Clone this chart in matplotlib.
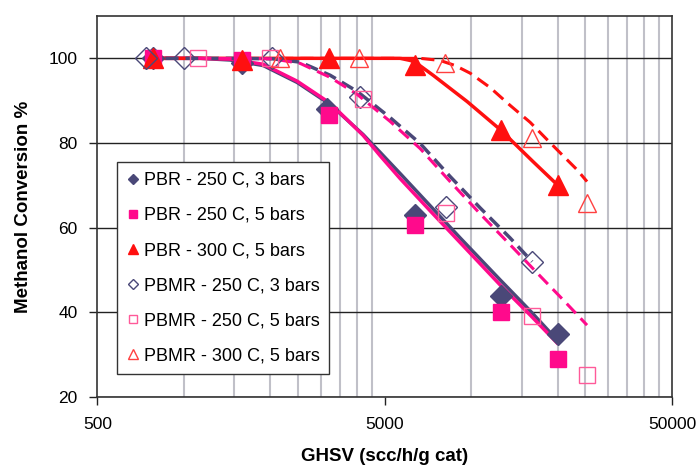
import matplotlib
matplotlib.use('Agg')
import matplotlib.pyplot as plt
from matplotlib.ticker import FixedLocator, NullFormatter

plt.rcParams['font.family'] = ['Liberation Sans', 'DejaVu Sans']

labels = ['PBR - 250 C, 3 bars', 'PBR - 250 C, 5 bars', 'PBR - 300 C, 5 bars',
          'PBMR - 250 C, 3 bars', 'PBMR - 250 C, 5 bars', 'PBMR - 300 C, 5 bars']

# measured points
pbr250_3_x = [780, 1600, 3150, 6400, 12700, 20000]
pbr250_3_y = [100, 99, 88, 63, 44, 35]
pbr250_5_x = [780, 1600, 3200, 6400, 12700, 20000]
pbr250_5_y = [100, 99.5, 86.7, 60.7, 40, 29]
pbr300_5_x = [780, 1600, 3200, 6400, 12700, 20000]
pbr300_5_y = [100, 99.5, 100, 98.5, 83, 70]
pbmr250_3_x = [740, 1000, 2030, 4100, 8150, 16300]
pbmr250_3_y = [100, 100, 100, 90.8, 65, 52]
pbmr250_5_x = [1120, 2000, 4200, 8180, 16300, 25300]
pbmr250_5_y = [100, 100, 90.5, 63.5, 39.2, 25.2]
pbmr300_5_x = [2170, 4080, 8120, 16300, 25300]
pbmr300_5_y = [100, 100, 99, 81.3, 65.9]

# fitted curves
fit_pbr250_3_x = [783, 1141, 1451, 1890, 2481, 3232, 4209, 4823, 5661, 7199, 9155, 12610, 16040, 19905]
fit_pbr250_3_y = [100, 100, 99.6, 98.3, 94.3, 89.1, 82.0, 77.8, 72.8, 65.2, 57.6, 47.7, 40.4, 33.5]
fit_pbr250_5_x = [783, 1141, 1451, 1890, 2481, 3232, 4209, 4823, 5661, 7199, 9155, 12610, 16040, 19905]
fit_pbr250_5_y = [100, 100, 99.8, 98.6, 94.6, 89.4, 81.8, 77.0, 71.6, 64.0, 56.5, 46.5, 39.4, 32.8]
fit_pbr300_5_x = [783, 4823, 5661, 6134, 6384, 7374, 8449, 9682, 12610, 16429, 19905]
fit_pbr300_5_y = [100, 100, 100, 99.5, 99.1, 96.0, 92.9, 89.8, 83.2, 75.6, 70.2]
fit_pbmr250_3_x = [734, 1451, 2031, 2542, 3232, 4011, 5225, 6645, 8449, 10743, 13660, 16298]
fit_pbmr250_3_y = [100, 100, 99.9, 99.1, 96.0, 92.2, 86.0, 79.9, 72.1, 64.7, 57.6, 52.0]
fit_pbmr250_5_x = [1123, 2031, 2542, 3232, 4011, 5225, 6645, 8449, 10743, 13660, 17377, 21223, 25309]
fit_pbmr250_5_y = [100, 99.9, 98.8, 95.5, 91.5, 85.1, 78.7, 70.9, 63.3, 56.0, 48.6, 42.5, 37.0]
fit_pbmr300_5_x = [2165, 6645, 7800, 8795, 9918, 11639, 13660, 16040, 18377, 20885, 23358, 25309]
fit_pbmr300_5_y = [100, 100, 99.5, 98.3, 96.5, 93.1, 88.9, 84.9, 80.8, 77.0, 73.7, 70.9]

navy = '#4a4878'
pink = '#ff0a8c'
red = '#ff1010'

fig = plt.figure(figsize=(7, 4.7), dpi=100)
ax = fig.add_axes([0.139, 0.155, 0.821, 0.811])
ax.set_xscale('log')

# curves
ax.plot(fit_pbr250_3_x, fit_pbr250_3_y, '-', color=navy, lw=2.5, zorder=3)
ax.plot(fit_pbr250_5_x, fit_pbr250_5_y, '-', color=pink, lw=2.5, zorder=3)
ax.plot(fit_pbr300_5_x, fit_pbr300_5_y, '-', color=red, lw=2.5, zorder=3)
ax.plot(fit_pbmr250_3_x, fit_pbmr250_3_y, '--', color=navy, lw=2.5, dashes=(3.8, 2.0), zorder=3)
ax.plot(fit_pbmr250_5_x, fit_pbmr250_5_y, '--', color=pink, lw=2.2, dashes=(4.3, 2.3), zorder=3)
ax.plot(fit_pbmr300_5_x, fit_pbmr300_5_y, '--', color=red, lw=2.2, dashes=(4.3, 2.3), zorder=3)

# points
ax.plot(pbr250_3_x, pbr250_3_y, 'D', color=navy, ms=11, ls='none', zorder=4, label=labels[0])
ax.plot(pbr250_5_x, pbr250_5_y, 's', color=pink, ms=12, ls='none', zorder=4, label=labels[1])
ax.plot(pbr300_5_x, pbr300_5_y, '^', color=red, ms=14.5, ls='none', zorder=4, label=labels[2])
ax.plot(pbmr250_3_x, pbmr250_3_y, 'D', mfc='none', mec=navy, mew=1.0, ms=11, ls='none', zorder=4, label=labels[3])
ax.plot(pbmr250_5_x, pbmr250_5_y, 's', mfc='none', mec='#ff5a99', mew=1.0, ms=12, ls='none', zorder=4, label=labels[4])
ax.plot(pbmr300_5_x, pbmr300_5_y, '^', mfc='none', mec='#ff4040', mew=1.0, ms=13.5, ls='none', zorder=4, label=labels[5])

ax.set_xlim(500, 50000)
ax.set_ylim(20, 110)
ax.xaxis.set_major_locator(FixedLocator([500, 5000, 50000]))
ax.set_xticklabels(['500', '5000', '50000'])
minors = list(range(1000, 5000, 500)) + list(range(10000, 50000, 5000))
ax.xaxis.set_minor_locator(FixedLocator(minors))
ax.xaxis.set_minor_formatter(NullFormatter())
ax.set_yticks([20, 40, 60, 80, 100])

ax.grid(True, which='minor', axis='x', color='#c0c0c8', lw=1.5, zorder=0)
ax.grid(True, which='major', axis='y', color='#222222', lw=1.0, zorder=1)
ax.tick_params(axis='x', which='minor', length=0)
ax.tick_params(axis='both', which='major', direction='out', length=6, width=1,
               labelsize=12.5, pad=8, color='#222222')
for s in ax.spines.values():
    s.set_color('#333333')
    s.set_linewidth(1.2)

ax.set_xlabel('GHSV (scc/h/g cat)', fontsize=13.5, fontweight='bold', labelpad=12)
ax.set_ylabel('Methanol Conversion %', fontsize=13.5, fontweight='bold', labelpad=12)

leg = ax.legend(loc='upper left', bbox_to_anchor=(0.035, 0.617), borderaxespad=0,
                fontsize=13, markerscale=0.5, handlelength=0.6, handletextpad=0.3,
                labelspacing=1.0, fancybox=False, framealpha=1, edgecolor='#333333',
                borderpad=0.55)
leg.get_frame().set_linewidth(1.0)
leg.set_zorder(5)

fig.savefig('out.png', dpi=100)
